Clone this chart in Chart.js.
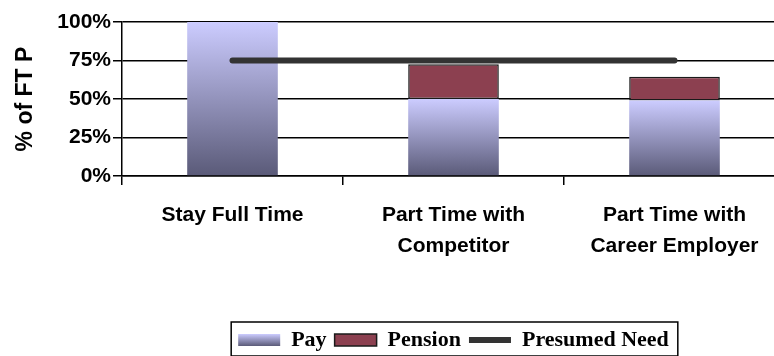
<!DOCTYPE html>
<html>
<head>
<meta charset="utf-8">
<script src="https://cdn.jsdelivr.net/npm/chart.js@4.4.0/dist/chart.umd.min.js"></script>
<style>
  html, body { margin: 0; padding: 0; background: #fff; overflow: hidden; }
  #contenedor { width: 786px; height: 356px; }
</style>
</head>
<body>
<div id="contenedor"><canvas id="grafico" width="786" height="356"></canvas></div>
<script>
// Datos del gráfico (porcentaje del sueldo de tiempo completo)
const categorias = ['Stay Full Time', ['Part Time with', 'Competitor'], ['Part Time with', 'Career Employer']];
const pago = [100, 50, 49];
const pension = [0, 22.5, 15.5];
const necesidad = [75, 75, 75];
const marcasY = [0, 25, 50, 75, 100];

const fuenteSans = 'Arial, "Liberation Sans", sans-serif';
const fuenteSerif = '"Times New Roman", "Liberation Serif", serif';
const tamLeyenda = 22;

// Degradado lavanda -> gris azulado, de arriba hacia abajo de cada barra
function degradado(ctx2d, arriba, abajo) {
    const g = ctx2d.createLinearGradient(0, arriba, 0, abajo);
    g.addColorStop(0, '#ccccff');
    g.addColorStop(1, '#5a5a78');
    return g;
}

function colorPago(context) {
    const chart = context.chart;
    if (!chart.chartArea || context.type !== 'data') return '#a0a0d0';
    const y = chart.scales.y;
    return degradado(chart.ctx, y.getPixelForValue(pago[context.dataIndex]), y.getPixelForValue(0));
}

// Borde alrededor de la leyenda y degradado en la muestra de "Pay"
const marcoLeyenda = {
    id: 'marcoLeyenda',
    afterUpdate(chart) {
        const leyenda = chart.legend;
        const cajas = leyenda.legendHitBoxes;
        if (!cajas || !cajas.length) return;
        const cy = cajas[0].top + tamLeyenda / 2;
        leyenda.legendItems[0].fillStyle = degradado(chart.ctx, cy - 6, cy + 6);
    },
    afterDraw(chart) {
        const cajas = chart.legend.legendHitBoxes;
        if (!cajas || !cajas.length) return;
        const izq = Math.min(...cajas.map(c => c.left)) - 7;
        const der = Math.max(...cajas.map(c => c.left + c.width)) + 9;
        const arriba = cajas[0].top - 7;
        const ctx = chart.ctx;
        ctx.save();
        ctx.strokeStyle = '#000';
        ctx.lineWidth = 1.5;
        ctx.strokeRect(izq, arriba, der - izq, 34);
        ctx.restore();
    }
};

const ctx = document.getElementById('grafico').getContext('2d');
const grafico = new Chart(ctx, {
    type: 'bar',
    data: {
        labels: categorias,
        datasets: [
            {
                label: 'Pay',
                data: pago,
                backgroundColor: colorPago,
                borderWidth: 0,
                stack: 'ingreso'
            },
            {
                label: 'Pension',
                data: pension,
                backgroundColor: '#8c4050',
                borderColor: '#1a1a1a',
                borderWidth: 1.5,
                borderSkipped: false,
                stack: 'ingreso'
            },
            {
                type: 'line',
                label: 'Presumed Need',
                data: necesidad,
                borderColor: '#333333',
                backgroundColor: '#333333',
                borderWidth: 6,
                borderCapStyle: 'round',
                pointRadius: 0,
                stack: 'necesidad',
                order: -1
            }
        ]
    },
    options: {
        responsive: false,
        animation: false,
        events: [],
        layout: { padding: { top: 22, right: 1, bottom: -5, left: 0 } },
        datasets: {
            bar: { categoryPercentage: 1, barPercentage: 0.41 }
        },
        scales: {
            x: {
                stacked: true,
                afterFit: (escala) => { escala.height = 145; },
                grid: { offset: true, drawOnChartArea: false, color: '#000', tickLength: 9, lineWidth: 1.5 },
                border: { color: '#000', width: 1.5 },
                ticks: {
                    color: '#000',
                    padding: 14,
                    maxRotation: 0,
                    autoSkip: false,
                    font: { family: fuenteSans, size: 21, weight: 'bold', lineHeight: 1.5 }
                }
            },
            y: {
                stacked: true,
                min: 0,
                max: 100,
                afterFit: (escala) => { escala.width = 122; },
                afterBuildTicks: (escala) => { escala.ticks = marcasY.map(v => ({ value: v })); },
                grid: { color: '#000', tickLength: 9, lineWidth: 1.5 },
                border: { color: '#000', width: 1.5 },
                ticks: {
                    color: '#000',
                    padding: 2,
                    font: { family: fuenteSans, size: 21, weight: 'bold' },
                    callback: (v) => v + '%'
                },
                title: {
                    display: true,
                    text: '% of FT P',
                    color: '#000',
                    padding: { top: 12, bottom: 0 },
                    font: { family: fuenteSans, size: 23, weight: 'bold' }
                }
            }
        },
        plugins: {
            tooltip: { enabled: false },
            legend: {
                position: 'bottom',
                fullSize: false,
                labels: {
                    color: '#000',
                    usePointStyle: true,
                    pointStyleWidth: 42,
                    boxHeight: 12,
                    padding: 8,
                    font: { family: fuenteSerif, size: tamLeyenda, weight: 'bold' },
                    sort: (a, b) => a.datasetIndex - b.datasetIndex,
                    generateLabels: (chart) => {
                        const items = Chart.defaults.plugins.legend.labels.generateLabels(chart);
                        items.forEach(item => {
                            item.pointStyle = item.datasetIndex === 2 ? 'line' : 'rect';
                        });
                        return items;
                    }
                }
            }
        }
    },
    plugins: [marcoLeyenda]
});
</script>
</body>
</html>
